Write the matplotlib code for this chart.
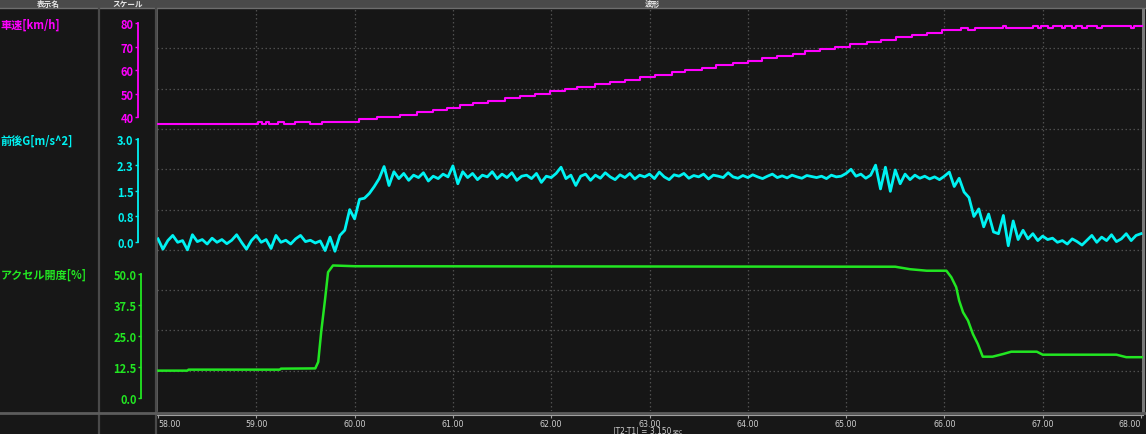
import numpy as np
import matplotlib.pyplot as plt
from matplotlib.lines import Line2D
from matplotlib.patches import Rectangle

plt.rcParams['font.family'] = ['Noto Sans CJK JP', 'DejaVu Sans']

W, H = 1146, 435

# ---- data ----
# vehicle speed [km/h], step changes (time, value)
speed_t = [58.00, 59.02, 59.06, 59.10, 59.13, 59.22, 59.28, 59.39, 59.55, 59.67,
           60.04, 60.23, 60.46, 60.63, 60.80, 60.94, 61.07, 61.20, 61.36, 61.53,
           61.68, 61.84, 61.99, 62.14, 62.26, 62.45, 62.60, 62.75, 62.90, 63.06,
           63.23, 63.36, 63.53, 63.68, 63.85, 64.00, 64.14, 64.30, 64.46, 64.58,
           64.73, 64.89, 65.04, 65.21, 65.36, 65.51, 65.67, 65.82, 65.98, 66.17,
           66.24, 66.31, 66.60, 66.63, 66.90, 66.95, 66.98, 67.05, 67.10, 67.20,
           67.23, 67.30, 67.34, 67.40, 67.45, 67.55, 67.60, 67.90, 67.93, 68.02]
speed_kmh = [37, 38, 37, 38, 37, 38, 37, 38, 37, 38,
             39, 40, 41, 42, 43, 44, 45, 46, 47, 48,
             49, 50, 51, 52, 53, 54, 55, 56, 57, 58,
             59, 60, 61, 62, 63, 64, 65, 66, 67, 68,
             69, 70, 71, 72, 73, 74, 75, 76, 77, 78,
             77, 78, 79, 78, 79, 78, 79, 78, 79, 78,
             79, 78, 79, 78, 79, 78, 79, 78, 79, 79]

# longitudinal G [m/s^2], one sample every 0.05 s from 58.00 to 68.00
g_time = np.round(58.0 + 0.05 * np.arange(201), 2)
g_vals = [
    0.10, -0.20, 0.05, 0.20, 0.00, 0.05, -0.22, 0.22, 0.02, 0.08,
    -0.05, 0.12, 0.00, 0.08, -0.04, 0.06, 0.22, 0.00, -0.20, 0.05,
    0.20, 0.00, 0.08, -0.18, 0.20, 0.00, 0.06, -0.05, 0.10, 0.20,
    0.02, 0.06, -0.02, 0.04, -0.24, 0.15, -0.26, 0.20, 0.35, 0.95,
    0.68, 1.25, 1.28, 1.42, 1.62, 1.85, 2.20, 1.65, 2.05, 1.85,
    2.00, 1.80, 1.95, 1.88, 2.02, 1.78, 1.92, 1.85, 1.98, 1.90,
    2.22, 1.70, 2.05, 1.88, 2.00, 1.82, 1.95, 1.90, 2.05, 1.85,
    1.98, 1.88, 2.02, 1.80, 1.92, 1.95, 1.85, 2.00, 1.74, 1.92,
    1.88, 2.00, 2.18, 1.85, 1.95, 1.65, 1.92, 1.98, 1.80, 1.95,
    1.86, 2.02, 1.90, 1.82, 1.96, 1.88, 2.00, 1.84, 1.95, 1.90,
    1.98, 1.85, 2.04, 1.90, 1.82, 1.96, 1.92, 2.00, 1.86, 1.94,
    1.90, 1.98, 1.84, 1.95, 1.92, 1.88, 2.02, 1.90, 1.86, 1.94,
    1.88, 1.96, 1.90, 1.85, 1.92, 1.98, 1.88, 1.93, 1.87, 1.95,
    1.90, 1.86, 1.94, 1.91, 1.88, 1.92, 1.85, 1.95, 1.90, 1.92,
    2.00, 2.12, 1.92, 1.98, 1.86, 1.95, 2.24, 1.55, 2.18, 1.48,
    2.10, 1.70, 1.98, 1.82, 1.95, 1.86, 1.92, 1.84, 1.90, 1.82,
    1.92, 2.04, 1.62, 1.86, 1.46, 1.30, 0.75, 0.97, 0.45, 0.82,
    0.30, 0.25, 0.78, -0.10, 0.62, 0.08, 0.35, 0.10, 0.25, 0.05,
    0.18, 0.08, 0.12, 0.00, 0.05, -0.05, 0.10, 0.02, -0.08, 0.06,
    0.20, 0.00, 0.15, 0.05, 0.22, 0.02, 0.10, 0.25, 0.05, 0.20,
    0.25]

# accelerator opening [%]
thr_t = [58.00, 58.30, 58.31, 59.24, 59.25, 59.60, 59.63, 59.66, 59.70, 59.73,
         59.78, 60.00, 65.50, 65.65, 65.82, 66.02, 66.07, 66.12, 66.15, 66.19,
         66.24, 66.29, 66.34, 66.39, 66.49, 66.60, 66.68, 66.94, 67.00, 67.75,
         67.85, 68.02]
thr_pct = [11.1, 11.1, 11.5, 11.5, 11.9, 12.0, 14.6, 26.6, 39.9, 50.6,
           53.3, 53.0, 52.8, 51.8, 51.2, 51.2, 48.6, 44.6, 39.2, 34.5,
           31.2, 25.8, 21.8, 16.7, 16.7, 17.8, 18.7, 18.7, 17.5, 17.5,
           16.5, 16.5]

speed_ticks = [40, 50, 60, 70, 80]
g_ticks = [0.0, 0.75, 1.5, 2.25, 3.0]
g_ticklabels = ['0.0', '0.8', '1.5', '2.3', '3.0']
thr_ticks = [0.0, 12.5, 25.0, 37.5, 50.0]
thr_ticklabels = ['0.0', '12.5', '25.0', '37.5', '50.0']
x_ticks = [58, 59, 60, 61, 62, 63, 64, 65, 66, 67, 68]

MAGENTA = '#ff00ff'
CYAN = '#00f2f2'
GREEN = '#22e622'
BG = '#171717'
GRID = '#4f4f4f'
NARROW = dict(family=['Liberation Sans Narrow', 'DejaVu Sans'], stretch='condensed')


def rect(x0, y0, x1, y1):
    # pixel box (top-left origin) -> figure fraction
    return [x0 / W, 1 - y1 / H, (x1 - x0) / W, (y1 - y0) / H]


def lim_for(va, pa, vb, pb, p_lo, p_hi):
    # values sitting at pixel p_lo and p_hi
    k = (vb - va) / (pb - pa)
    return va + (p_lo - pa) * k, va + (p_hi - pa) * k


fig = plt.figure(figsize=(W / 100, H / 100), dpi=100, facecolor=BG)

# header bar
fig.add_artist(Rectangle((0, 1 - 8.5 / H), 1, 8.5 / H, transform=fig.transFigure,
                         facecolor='#4a4a4a', edgecolor='none'))
fig.add_artist(Line2D([0, 1], [1 - 8.8 / H] * 2, color='#6e6e6e', lw=1))
for hx, txt in [(48, '表示名'), (128, 'スケール'), (652, '波形')]:
    fig.text(hx / W, 1 - 4.3 / H, txt, ha='center', va='center', color='#e8e8e8',
             fontsize=5.5, fontweight='bold')

# column dividers and bottom separator
for cx in (99, 155.5):
    fig.add_artist(Line2D([cx / W] * 2, [0, 1 - 9 / H], color='#4a4a4a', lw=1.6))
fig.add_artist(Line2D([0, 1], [1 - 413.5 / H] * 2, color='#5c5c5c', lw=2))

# plot area
PL, PR, PT, PB = 157, 1143, 9, 412
xlim = lim_for(58, 158, 68, 1141, PL, PR)
ax = fig.add_axes(rect(PL, PT, PR, PB), facecolor='#161616')
ax.set_xlim(xlim)
ax.set_ylim(0, 10)
ax.set_xticks(x_ticks[1:-1])
ax.set_yticks(range(1, 10))
ax.tick_params(length=0, labelbottom=False, labelleft=False)
ax.grid(True, color=GRID, lw=0.9, ls=(0, (1.2, 2.0)))
for s in ('left', 'top'):
    ax.spines[s].set_color('#6a6a6a')
    ax.spines[s].set_linewidth(1.2)
ax.spines['right'].set_color('#7a7a7a')
ax.spines['right'].set_linewidth(2.2)
ax.spines['bottom'].set_visible(False)


def signal_axes(va, pa, vb, pb):
    a = fig.add_axes(rect(PL, PT, PR, PB), facecolor='none')
    a.set_xlim(xlim)
    a.set_ylim(lim_for(va, pa, vb, pb, PB, PT))
    a.axis('off')
    return a


ax_v = signal_axes(40, 118, 80, 24.3)
ax_v.plot(speed_t, speed_kmh, drawstyle='steps-post', color=MAGENTA, lw=1.5)

ax_g = signal_axes(0, 243.3, 3, 140)
ax_g.plot(g_time, g_vals, color=CYAN, lw=2.0)

ax_a = signal_axes(0, 399.3, 50, 274.7)
ax_a.plot(thr_t, thr_pct, color=GREEN, lw=1.8)


# scale axes in the second column
def scale_axes(x, p_top, p_bot, lo, hi, ticks, labels, color):
    a = fig.add_axes(rect(x, p_top, x + 0.1, p_bot), facecolor='none')
    a.set_ylim(lo, hi)
    a.set_xticks([])
    a.set_yticks(ticks)
    a.set_yticklabels(labels, fontweight='bold')
    for s in ('top', 'right', 'bottom'):
        a.spines[s].set_visible(False)
    a.spines['left'].set_color(color)
    a.spines['left'].set_linewidth(1.3)
    a.tick_params(axis='y', colors=color, length=2.2, width=1, pad=0.8, labelsize=8)
    return a


scale_axes(138, 24.3, 118, 40, 80, speed_ticks, [str(v) for v in speed_ticks], MAGENTA)
scale_axes(137.7, 140, 243.3, 0, 3, g_ticks, g_ticklabels, CYAN)
scale_axes(141, 274.7, 399.3, 0, 50, thr_ticks, thr_ticklabels, GREEN)

# channel names in the first column
for ly, name, col in [(25.5, '車速[km/h]', MAGENTA),
                      (140.7, '前後G[m/s^2]', CYAN),
                      (275.3, 'アクセル開度[%]', GREEN)]:
    fig.text(0.5 / W, 1 - ly / H, name, ha='left', va='center', color=col,
             fontsize=8, fontweight='bold')

# time axis strip
ax_x = fig.add_axes(rect(PL, 415.5, PR, 416), facecolor='none')
ax_x.set_xlim(xlim)
ax_x.set_yticks([])
for s in ('top', 'left', 'right'):
    ax_x.spines[s].set_visible(False)
ax_x.spines['bottom'].set_color('#a0a0a0')
ax_x.spines['bottom'].set_linewidth(0.8)
ax_x.set_xticks(x_ticks)
xl = ax_x.set_xticklabels(['%.2f' % t for t in x_ticks], **NARROW)
ax_x.tick_params(axis='x', colors='#a0a0a0', labelcolor='#cfcfcf', length=2,
                 width=0.8, pad=0.6, labelsize=6.3)
xl[0].set_ha('left')
xl[-1].set_ha('right')

fig.text(613 / W, 1 - 431.5 / H, '|T2-T1| = 3.150', ha='left', va='center',
         color='#cfcfcf', fontsize=6.0, **NARROW)
fig.text(673 / W, 1 - 432 / H, 'sec', ha='left', va='center',
         color='#cfcfcf', fontsize=4.8, **NARROW)

fig.savefig('out.png', dpi=100, facecolor=BG)
